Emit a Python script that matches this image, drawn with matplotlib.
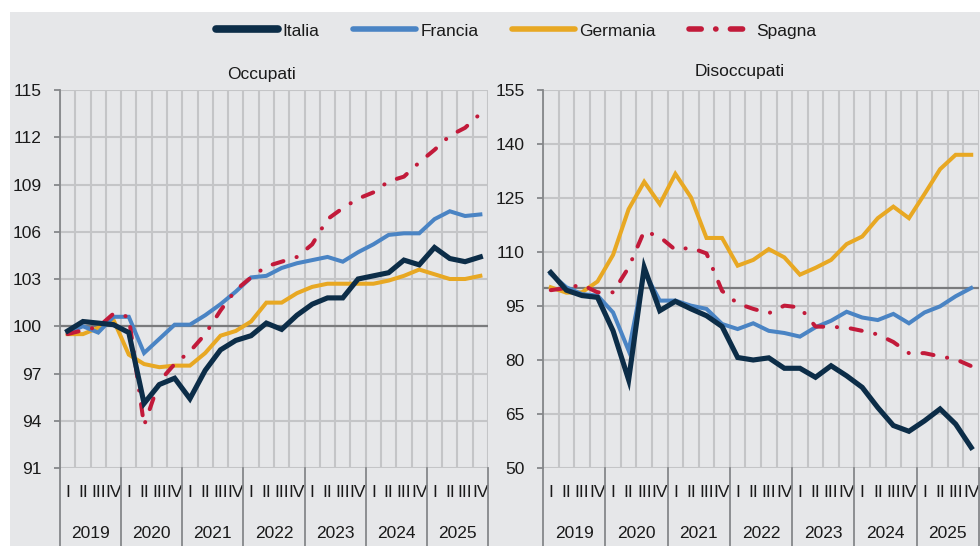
import numpy as np
import matplotlib
matplotlib.use("Agg")
import matplotlib.pyplot as plt
import matplotlib.font_manager as fm
from matplotlib.lines import Line2D
from matplotlib.patches import Rectangle

# --- font: narrow sans if available ---
names = {f.name for f in fm.fontManager.ttflist}
family = "Liberation Sans Narrow" if "Liberation Sans Narrow" in names else "Liberation Sans"
plt.rcParams["font.family"] = [family, "DejaVu Sans"]

# --- data (index, base 2019 = 100), 2019 Q1 - 2025 Q4 ---
years = ["2019", "2020", "2021", "2022", "2023", "2024", "2025"]
quarters = ["I", "II", "III", "IV"]

occ_italia = [99.7, 100.3, 100.2, 100.1, 99.6, 95.1, 96.3, 96.7, 95.4, 97.2, 98.5, 99.1, 99.4, 100.2,
              99.8, 100.7, 101.4, 101.8, 101.8, 103.0, 103.2, 103.4, 104.2, 103.9, 105.0, 104.3, 104.1, 104.4]
occ_francia = [99.6, 100.0, 99.6, 100.6, 100.6, 98.3, 99.2, 100.1, 100.1, 100.7, 101.4, 102.2, 103.1, 103.2,
               103.7, 104.0, 104.2, 104.4, 104.1, 104.7, 105.2, 105.8, 105.9, 105.9, 106.8, 107.3, 107.0, 107.1]
occ_germania = [99.5, 99.5, 99.9, 100.4, 98.2, 97.6, 97.4, 97.5, 97.5, 98.3, 99.4, 99.7, 100.3, 101.5,
                101.5, 102.1, 102.5, 102.7, 102.7, 102.7, 102.7, 102.9, 103.2, 103.6, 103.3, 103.0, 103.0, 103.2]
occ_spagna = [99.5, 99.75, 99.95, 100.8, 100.6, 93.7, 96.5, 97.6, 98.4, 99.5, 101.0, 102.3, 103.1, 103.8,
              104.1, 104.4, 105.2, 106.8, 107.5, 108.1, 108.5, 109.2, 109.5, 110.4, 111.2, 112.1, 112.6, 113.5]

dis_italia = [104.3, 99.4, 97.9, 97.4, 88.1, 74.5, 105.7, 93.7, 96.3, 94.2, 92.3, 89.3, 80.7, 80.0,
              80.6, 77.7, 77.7, 75.2, 78.4, 75.6, 72.4, 66.8, 61.8, 60.2, 63.1, 66.4, 62.2, 55.7]
dis_francia = [103.9, 100.2, 98.3, 97.9, 93.2, 82.6, 104.5, 96.5, 96.5, 95.1, 94.2, 90.0, 88.6, 90.2,
               88.1, 87.5, 86.5, 89.1, 90.9, 93.4, 91.8, 91.1, 92.8, 90.2, 93.2, 94.9, 97.7, 100.0]
dis_germania = [100.2, 98.7, 98.8, 101.8, 109.2, 121.9, 129.5, 123.3, 131.7, 125.2, 113.9, 113.9, 106.2, 107.8,
                110.8, 108.5, 103.7, 105.6, 107.8, 112.2, 114.3, 119.4, 122.6, 119.4, 126.1, 133.0, 137.0, 137.0]
dis_spagna = [99.4, 100.0, 100.9, 98.8, 98.8, 105.7, 115.8, 114.2, 110.6, 111.2, 109.6, 99.2, 95.7, 94.2,
              93.0, 95.1, 94.6, 89.3, 89.2, 89.0, 88.1, 87.1, 85.0, 81.9, 81.9, 81.0, 80.2, 78.3]

occ_ticks = [91, 94, 97, 100, 103, 106, 109, 112, 115]
dis_ticks = [50, 65, 80, 95, 110, 125, 140, 155]

# --- styles ---
BG = "#e6e7e9"
GRID = "#c4c5c7"
SEP = "#85878a"
TXT = "#1a1a1a"
C_ITA = "#0c2d48"
C_FRA = "#4a84c4"
C_GER = "#e8a823"
C_SPA = "#c21a3a"
SPA_DASH = (2.8, 3.4, 0.05, 3.4)
FS = 12.5

x = np.arange(len(occ_italia)) + 0.5
n_q = len(x)

fig = plt.figure(figsize=(9.8, 5.46), dpi=100)
fig.patches.append(Rectangle((10 / 980, 0), 970 / 980, 534 / 546, transform=fig.transFigure,
                             facecolor=BG, edgecolor="none", zorder=-10))

ax1 = fig.add_axes([60 / 980, 78 / 546, 428 / 980, 378 / 546])
ax2 = fig.add_axes([543 / 980, 78 / 546, 436 / 980, 378 / 546])


def draw_panel(ax, ita, fra, ger, spa, ticks):
    ax.set_facecolor(BG)
    ax.set_xlim(0, n_q)
    ax.set_ylim(ticks[0], ticks[-1])

    # grid
    for xv in range(n_q + 1):
        ax.axvline(xv, color=GRID, lw=1.5, zorder=1)
    for yv in ticks:
        ax.axhline(yv, color=GRID, lw=1.5, zorder=1)
    ax.axhline(100, color="#7a7b7d", lw=1.6, zorder=2)

    ax.plot(x, ger, color=C_GER, lw=2.9, zorder=3, solid_joinstyle="miter")
    ax.plot(x, fra, color=C_FRA, lw=2.9, zorder=4, solid_joinstyle="miter")
    sp, = ax.plot(x, spa, color=C_SPA, lw=2.9, zorder=5, dash_capstyle="round")
    sp.set_dashes(SPA_DASH)
    ax.plot(x, ita, color=C_ITA, lw=3.7, zorder=6, solid_joinstyle="miter")

    for s in ["top", "right", "bottom"]:
        ax.spines[s].set_visible(False)
    ax.spines["left"].set_color(SEP)
    ax.spines["left"].set_linewidth(1.3)
    ax.spines["left"].set_zorder(7)

    ax.set_yticks(ticks)
    ax.set_yticklabels([str(t) for t in ticks])
    ax.tick_params(axis="y", length=4, width=1.3, color=SEP, pad=9, labelsize=FS, labelcolor=TXT)
    ax.set_xticks([])

    # quarter and year labels below the axis
    for i in range(n_q):
        ax.text(i + 0.5, -0.066, quarters[i % 4], transform=ax.get_xaxis_transform(),
                ha="center", va="center", fontsize=FS, color=TXT)
    for k, yr in enumerate(years):
        ax.text(4 * k + 2, -0.173, yr, transform=ax.get_xaxis_transform(),
                ha="center", va="center", fontsize=FS, color=TXT)
    for k in range(len(years) + 1):
        ax.plot([4 * k, 4 * k], [0, -0.21], transform=ax.get_xaxis_transform(),
                color=SEP, lw=1.3, clip_on=False, zorder=7)


draw_panel(ax1, occ_italia, occ_francia, occ_germania, occ_spagna, occ_ticks)
draw_panel(ax2, dis_italia, dis_francia, dis_germania, dis_spagna, dis_ticks)

fig.text(261 / 980, 1 - 79 / 546, "Occupati", ha="center", va="baseline", fontsize=FS, color=TXT)
fig.text(740 / 980, 1 - 76 / 546, "Disoccupati", ha="center", va="baseline", fontsize=FS, color=TXT)

# legend
spa_handle = Line2D([0], [0], color=C_SPA, lw=4, dash_capstyle="round")
spa_handle.set_dashes((2.2, 2.6, 0.05, 2.6))
handles = [
    Line2D([0], [0], color=C_ITA, lw=5.5, solid_capstyle="round"),
    Line2D([0], [0], color=C_FRA, lw=4, solid_capstyle="round"),
    Line2D([0], [0], color=C_GER, lw=4, solid_capstyle="round"),
    spa_handle,
]
leg = fig.legend(handles, ["Italia", "Francia", "Germania", "Spagna"], loc="center",
                 bbox_to_anchor=(516 / 980, 1 - 31 / 546), ncol=4, frameon=False,
                 fontsize=FS, handlelength=3.6, handletextpad=0.25, columnspacing=1.95)
for t in leg.get_texts():
    t.set_color(TXT)

fig.savefig("out.png", dpi=100, facecolor="white")
